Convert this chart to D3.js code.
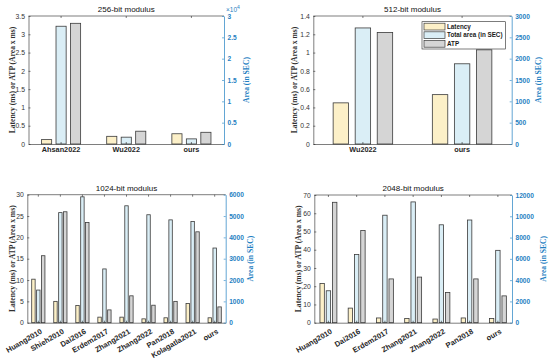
<!DOCTYPE html>
<html>
<head>
<meta charset="utf-8">
<script src="https://cdn.jsdelivr.net/npm/d3@7"></script>
<style>
  body { margin: 0; background: #fff; }
  svg { display: block; font-family: "Liberation Sans", Arial, sans-serif; }
</style>
</head>
<body>
<div id="chart"></div>
<script>
// series names
const seriesNames = ['Latency', 'Total area (in SEC)', 'ATP'];

// 256-bit modulus
const cats256 = ['Ahsan2022', 'Wu2022', 'ours'];
const lat256 = [0.12, 0.21, 0.28];
const area256 = [27600, 1600, 1200];
const atp256 = [3.30, 0.35, 0.32];
const leftTicks256 = [0, 0.5, 1, 1.5, 2, 2.5, 3, 3.5];
const rightTicks256 = [0, 5000, 10000, 15000, 20000, 25000, 30000];

// 512-bit modulus
const cats512 = ['Wu2022', 'ours'];
const lat512 = [0.45, 0.54];
const area512 = [2720, 1880];
const atp512 = [1.22, 1.03];
const leftTicks512 = [0, 0.2, 0.4, 0.6, 0.8, 1, 1.2, 1.4];
const rightTicks512 = [0, 500, 1000, 1500, 2000, 2500, 3000];

// 1024-bit modulus
const cats1024 = ['Huang2010', 'Shieh2010', 'Dai2016', 'Erdem2017', 'Zhang2021', 'Zhang2022', 'Pan2018', 'Kolagatla2021', 'ours'];
const lat1024 = [10.2, 5.0, 4.05, 1.3, 1.3, 0.9, 1.15, 4.5, 1.15];
const area1024 = [1530, 5160, 5900, 2520, 5480, 5060, 4820, 4740, 3500];
const atp1024 = [15.7, 26.0, 23.5, 3.0, 6.3, 4.1, 5.0, 21.3, 3.7];
const leftTicks1024 = [0, 5, 10, 15, 20, 25, 30];
const rightTicks1024 = [0, 1000, 2000, 3000, 4000, 5000, 6000];

// 2048-bit modulus
const cats2048 = ['Huang2010', 'Dai2016', 'Erdem2017', 'Zhang2021', 'Zhang2022', 'Pan2018', 'ours'];
const lat2048 = [21.5, 8.0, 2.6, 2.3, 2.0, 2.6, 2.3];
const area2048 = [3000, 6400, 10100, 11350, 9200, 9650, 6800];
const atp2048 = [66.0, 50.5, 24.0, 25.0, 16.5, 24.0, 14.7];
const leftTicks2048 = [0, 10, 20, 30, 40, 50, 60, 70];
const rightTicks2048 = [0, 2000, 4000, 6000, 8000, 10000, 12000];

const fills = ['#fcf0c8', '#daeef6', '#d5d5d5'];
const edge = '#3a3a3a';
const axisGray = '#262626';
const blue = '#1f7fc2';

const svg = d3.select('#chart')
  .append('svg')
  .attr('width', 550)
  .attr('height', 360);

function drawPanel(p) {
  const g = svg.append('g');

  const x = d3.scaleBand().domain(p.cats).range([p.x0, p.x1]);
  const bw = x.bandwidth();
  const slot = bw * 2 / 9;   // grouped bar slot (group width 2/3 of band)
  const yL = d3.scaleLinear().domain([0, p.leftTicks[p.leftTicks.length - 1]]).range([p.y1, p.y0]);
  const yR = d3.scaleLinear().domain([0, p.rightTicks[p.rightTicks.length - 1]]).range([p.y1, p.y0]);

  const series = [
    { vals: p.lat, y: yL, off: -1 },
    { vals: p.area, y: yR, off: 0 },
    { vals: p.atp, y: yL, off: 1 }
  ];

  // bars
  series.forEach((s, si) => {
    g.selectAll(null)
      .data(p.cats)
      .enter()
      .append('rect')
      .attr('x', (d) => x(d) + bw / 2 + s.off * slot - slot * 0.35)
      .attr('width', slot * 0.7)
      .attr('y', (d, i) => s.y(s.vals[i]))
      .attr('height', (d, i) => p.y1 - s.y(s.vals[i]))
      .attr('fill', fills[si])
      .attr('stroke', edge)
      .attr('stroke-width', 0.8);
  });

  // box top line
  g.append('line')
    .attr('x1', p.x0).attr('x2', p.x1)
    .attr('y1', p.y0).attr('y2', p.y0)
    .attr('stroke', axisGray).attr('stroke-width', 0.6);

  // top ticks
  const top = g.append('g')
    .attr('transform', `translate(0,${p.y0})`)
    .call(d3.axisTop(x).tickSizeInner(-2).tickSizeOuter(0).tickFormat(''));
  top.select('.domain').remove();
  top.selectAll('line').attr('stroke', axisGray).attr('stroke-width', 0.6);

  // bottom axis
  const bottom = g.append('g')
    .attr('transform', `translate(0,${p.y1})`)
    .call(d3.axisBottom(x).tickSizeInner(-2).tickSizeOuter(0).tickPadding(3));
  bottom.select('.domain').attr('stroke', axisGray).attr('stroke-width', 0.6);
  bottom.selectAll('line').attr('stroke', axisGray).attr('stroke-width', 0.6);
  bottom.selectAll('text')
    .attr('fill', axisGray)
    .style('font-size', '7.3px')
    .style('font-weight', 'bold');
  if (p.rotate) {
    bottom.selectAll('text')
      .attr('text-anchor', 'end')
      .attr('y', 0)
      .attr('dy', '0.35em')
      .style('font-size', '7.5px')
      .attr('transform', `translate(3,8) rotate(${-p.rotate})`);
  }

  // left axis
  const left = g.append('g')
    .attr('transform', `translate(${p.x0},0)`)
    .call(d3.axisLeft(yL).tickValues(p.leftTicks).tickSizeInner(-2).tickSizeOuter(0)
      .tickPadding(3.5).tickFormat(d3.format('~g')));
  left.select('.domain').attr('stroke', axisGray).attr('stroke-width', 0.6);
  left.selectAll('line').attr('stroke', axisGray).attr('stroke-width', 0.6);
  left.selectAll('text').attr('fill', '#333').style('font-size', '6.8px');

  // right axis
  const right = g.append('g')
    .attr('transform', `translate(${p.x1},0)`)
    .call(d3.axisRight(yR).tickValues(p.rightTicks).tickSizeInner(-2).tickSizeOuter(0)
      .tickPadding(3.5).tickFormat((d) => d3.format('~g')(d / p.rightDiv)));
  right.select('.domain').attr('stroke', blue).attr('stroke-width', 0.7);
  right.selectAll('line').attr('stroke', blue).attr('stroke-width', 0.6);
  right.selectAll('text').attr('fill', blue).style('font-size', '6.6px').style('font-weight', 'bold');

  // title
  g.append('text')
    .attr('x', (p.x0 + p.x1) / 2)
    .attr('y', p.y0 - 4)
    .attr('text-anchor', 'middle')
    .style('font-size', '8px')
    .attr('fill', '#111')
    .text(p.title);

  // y labels
  g.append('text')
    .attr('transform', `translate(${p.leftLabelX},${(p.y0 + p.y1) / 2}) rotate(-90)`)
    .attr('text-anchor', 'middle')
    .attr('dy', '0.35em')
    .style('font-family', '"Liberation Serif", "Times New Roman", serif')
    .style('font-size', '7.6px')
    .style('font-weight', 'bold')
    .attr('fill', '#303030')
    .text('Latency (ms) or ATP (Area x ms)');

  g.append('text')
    .attr('transform', `translate(${p.rightLabelX},${(p.y0 + p.y1) / 2}) rotate(-90)`)
    .attr('text-anchor', 'middle')
    .attr('dy', '0.35em')
    .style('font-family', '"Liberation Serif", "Times New Roman", serif')
    .style('font-size', '7.6px')
    .style('font-weight', 'bold')
    .attr('fill', blue)
    .text('Area (in SEC)');

  if (p.rightDiv !== 1) {
    const ex = g.append('text')
      .attr('x', p.x1 + 2)
      .attr('y', p.y0 - 4)
      .attr('fill', blue)
      .style('font-size', '6.5px');
    ex.append('tspan').text('\u00d710');
    ex.append('tspan').attr('dy', -3).style('font-size', '5px').text('4');
  }

  if (p.legend) {
    const lg = g.append('g').attr('transform', `translate(${p.legend[0]},${p.legend[1]})`);
    lg.append('rect')
      .attr('width', 83.5).attr('height', 27.3)
      .attr('fill', '#fff')
      .attr('stroke', axisGray).attr('stroke-width', 0.6);
    seriesNames.forEach((name, i) => {
      lg.append('rect')
        .attr('x', 2).attr('y', 1.5 + i * 8.6)
        .attr('width', 21).attr('height', 6.8)
        .attr('fill', fills[i])
        .attr('stroke', edge).attr('stroke-width', 0.7);
      lg.append('text')
        .attr('x', 25).attr('y', 4.9 + i * 8.6)
        .attr('dy', '0.35em')
        .style('font-size', '6.3px')
        .style('font-weight', 'bold')
        .attr('fill', '#1a1a1a')
        .text(name);
    });
  }
}

drawPanel({
  title: '256-bit modulus', cats: cats256, lat: lat256, area: area256, atp: atp256,
  leftTicks: leftTicks256, rightTicks: rightTicks256, rightDiv: 1e4,
  x0: 28.5, x1: 224, y0: 16, y1: 144, leftLabelX: 12.5, rightLabelX: 246
});

drawPanel({
  title: '512-bit modulus', cats: cats512, lat: lat512, area: area512, atp: atp512,
  leftTicks: leftTicks512, rightTicks: rightTicks512, rightDiv: 1,
  x0: 313.3, x1: 511.7, y0: 16, y1: 144, leftLabelX: 294, rightLabelX: 538,
  legend: [422, 21.7]
});

drawPanel({
  title: '1024-bit modulus', cats: cats1024, lat: lat1024, area: area1024, atp: atp1024,
  leftTicks: leftTicks1024, rightTicks: rightTicks1024, rightDiv: 1,
  x0: 27.3, x1: 225.7, y0: 194.7, y1: 322.7, leftLabelX: 12.3, rightLabelX: 250,
  rotate: 30
});

drawPanel({
  title: '2048-bit modulus', cats: cats2048, lat: lat2048, area: area2048, atp: atp2048,
  leftTicks: leftTicks2048, rightTicks: rightTicks2048, rightDiv: 1,
  x0: 314.3, x1: 512, y0: 195, y1: 322.7, leftLabelX: 298, rightLabelX: 543,
  rotate: 30
});
</script>
</body>
</html>
